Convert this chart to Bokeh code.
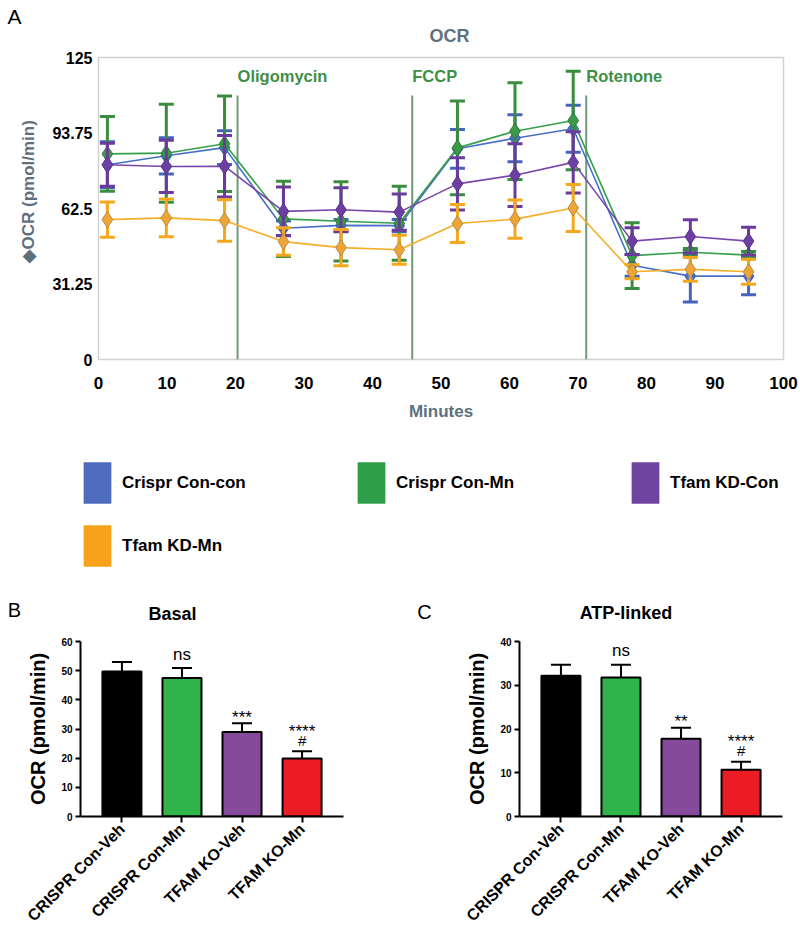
from math import pi
from bokeh.plotting import figure
from bokeh.models import (ColumnDataSource, Label, Legend, LegendItem, FixedTicker,
                          FactorRange, Title, Range1d)
from bokeh.layouts import column, row
from bokeh.core.properties import value
from bokeh.embed import file_html
from bokeh.resources import INLINE

# ---------------- data: panel A (OCR time course) ----------------
minutes = [1.3, 9.9, 18.4, 27.0, 35.4, 43.9, 52.4, 60.8, 69.3, 77.9, 86.4, 94.9]
series_names = ["Crispr Con-con", "Crispr Con-Mn", "Tfam KD-Con", "Tfam KD-Mn"]
con_con = [80.6, 84.3, 87.7, 54.3, 55.5, 55.4, 87.2, 91.6, 95.5, 39.0, 34.5, 34.5]
con_con_err = [9.5, 7.5, 7.0, 3.0, 2.4, 2.5, 8.0, 9.7, 9.7, 4.5, 10.7, 7.7]
con_mn = [85.1, 85.4, 89.3, 58.2, 57.2, 56.4, 87.6, 94.5, 98.9, 43.0, 44.4, 43.2]
con_mn_err = [15.5, 20.3, 19.8, 15.6, 16.4, 15.3, 19.4, 20.0, 20.4, 13.6, 1.5, 1.5]
kd_con = [80.6, 79.9, 80.0, 61.3, 62.0, 61.0, 72.7, 76.3, 81.6, 49.0, 50.9, 49.0]
kd_con_err = [8.9, 10.8, 12.7, 10.1, 9.1, 7.5, 10.8, 13.0, 12.7, 5.5, 6.9, 5.7]
kd_mn = [57.9, 58.6, 57.5, 48.8, 46.3, 45.4, 56.3, 58.1, 62.7, 36.3, 37.3, 36.3]
kd_mn_err = [7.3, 7.8, 8.6, 5.7, 7.5, 6.0, 7.9, 7.9, 9.7, 2.9, 4.9, 5.2]

drug_names = ["Oligomycin", "FCCP", "Rotenone"]
drug_times = [20.3, 45.8, 71.2]
drug_line_top = 109.3
y_ticks_A = [0, 31.25, 62.5, 93.75, 125]
x_ticks_A = [0, 10, 20, 30, 40, 50, 60, 70, 80, 90, 100]

# ---------------- data: panels B and C ----------------
groups = ["CRISPR Con-Veh", "CRISPR Con-Mn", "TFAM KO-Veh", "TFAM KO-Mn"]
basal = [49.7, 47.5, 29.0, 19.9]
basal_sem = [3.3, 3.4, 3.0, 2.5]
basal_sig = ["", "ns", "***", "****"]
basal_hash = ["", "", "", "#"]
atp = [32.2, 31.8, 17.8, 10.7]
atp_sem = [2.5, 2.9, 2.5, 1.8]
atp_sig = ["", "ns", "**", "****"]
atp_hash = ["", "", "", "#"]
bar_colors = ["#000000", "#2fb34a", "#864a9b", "#ec1c24"]

# ---------------- styles ----------------
SANS = "Liberation Sans, Arial, sans-serif"
line_cols = ["#4a6fc7", "#35a04a", "#7a46aa", "#f6ae27"]
err_cols = ["#4663bf", "#3a8c3e", "#6a3a9c", "#f5a81c"]
mk_fill = ["#4a6fc7", "#3a9a48", "#6e3fa2", "#eda634"]
mk_line = ["#3d5aa8", "#2f7a37", "#5a3488", "#b88a4a"]
leg_cols = ["#4f6bbd", "#2e9e48", "#6f43a0", "#f8a21c"]
GRAY = "#5e707d"
W = 800


def strip(height, border_left=0):
    """A blank canvas strip (no axes) used for panel letters, headings and legend."""
    s = figure(frame_width=W - border_left, frame_height=height, min_border=0,
               min_border_left=border_left, x_range=Range1d(border_left, W),
               y_range=Range1d(height, 0), x_axis_location=None, y_axis_location=None,
               output_backend="svg", toolbar_location=None)
    s.grid.visible = False
    s.outline_line_color = None
    return s


def text_label(fig, x, y, txt, size, bold=False, color="black"):
    fig.add_layout(Label(x=x, y=y, text=txt, text_font=SANS, text_font_size=size,
                         text_font_style="bold" if bold else "normal", text_color=color,
                         text_align="center", text_baseline="middle"))


# ---------------- header strip for A ----------------
hA = strip(45)
text_label(hA, 14, 16, "A", "21px")
text_label(hA, 449, 35, "OCR", "18px", bold=True, color=GRAY)

# ---------------- panel A ----------------
pA = figure(frame_width=685, frame_height=302, min_border_left=98, min_border_right=17,
            min_border_top=12, min_border_bottom=81, x_range=(0, 100), y_range=(0, 125),
            output_backend="svg", toolbar_location=None)
pA.grid.visible = False
pA.outline_line_color = "#d2d2d2"
pA.outline_line_width = 1.5

for ax in (pA.xaxis, pA.yaxis):
    ax.axis_line_color = None
    ax.major_tick_line_color = None
    ax.minor_tick_line_color = None
    ax.major_tick_out = 0
    ax.major_tick_in = 0
    ax.minor_tick_out = 0
    ax.minor_tick_in = 0
pA.yaxis.ticker = FixedTicker(ticks=y_ticks_A)
pA.yaxis.major_label_overrides = {t: ("%g" % t) for t in y_ticks_A}
pA.yaxis.major_label_text_font = SANS
pA.yaxis.major_label_text_font_style = "bold"
pA.yaxis.major_label_text_font_size = "16px"
pA.yaxis.major_label_text_color = "black"
pA.yaxis.major_label_standoff = 6
pA.xaxis.ticker = FixedTicker(ticks=x_ticks_A)
pA.xaxis.major_label_text_font = SANS
pA.xaxis.major_label_text_font_style = "bold"
pA.xaxis.major_label_text_font_size = "17px"
pA.xaxis.major_label_text_color = "black"
pA.xaxis.major_label_standoff = 17
pA.xaxis.axis_label = "Minutes"
pA.xaxis.axis_label_text_font = SANS
pA.xaxis.axis_label_text_font_style = "bold"
pA.xaxis.axis_label_text_font_size = "17px"
pA.xaxis.axis_label_text_color = GRAY
pA.xaxis.axis_label_standoff = 10

ylab = Title(text="\u25c6OCR (pmol/min)", align="left", offset=97, standoff=24,
             text_font=SANS, text_font_size="17px", text_font_style="bold", text_color=GRAY)
pA.add_layout(ylab, "left")

# drug injection lines
drug_src = ColumnDataSource(dict(x=drug_times, y0=[0] * len(drug_times),
                                 y1=[drug_line_top] * len(drug_times)))
pA.segment(x0="x", y0="y0", x1="x", y1="y1", source=drug_src,
           line_color="#6f9a78", line_width=2)
for name, t in zip(drug_names, drug_times):
    pA.add_layout(Label(x=t, y=117.5, text=name, text_font=SANS, text_font_size="16.5px",
                        text_font_style="bold", text_color="#3f8f45",
                        text_baseline="middle", text_align="left"))

series = [(con_con, con_con_err), (con_mn, con_mn_err), (kd_con, kd_con_err), (kd_mn, kd_mn_err)]
for i, (vals, errs) in enumerate(series):
    src = ColumnDataSource(dict(x=minutes, y=vals,
                                lo=[v - e for v, e in zip(vals, errs)],
                                hi=[v + e for v, e in zip(vals, errs)]))
    pA.line("x", "y", source=src, line_color=line_cols[i], line_width=1.6)
    pA.segment(x0="x", y0="lo", x1="x", y1="hi", source=src, line_color=err_cols[i], line_width=3)
    pA.scatter("x", "hi", source=src, marker="dash", size=15, line_color=err_cols[i], line_width=3)
    pA.scatter("x", "lo", source=src, marker="dash", size=15, line_color=err_cols[i], line_width=3)
    pA.scatter("x", "y", source=src, marker="diamond", size=16, fill_color=mk_fill[i],
               line_color=mk_line[i], line_width=1)

# ---------------- legend strip ----------------
lg = strip(135, border_left=63)
items = []
for i, name in enumerate(series_names):
    # proxy renderer, lying outside the visible strip; only its style feeds the legend
    r = lg.quad(left=[0], right=[1], top=[-10], bottom=[-11], fill_color=leg_cols[i],
                line_color=leg_cols[i], line_alpha=0.5)
    items.append(LegendItem(label=name, renderers=[r]))
leg = Legend(items=items, location="top_left", ncols=3, orientation="horizontal",
             glyph_width=34, glyph_height=51, label_standoff=8, label_width=220, spacing=12,
             padding=0, margin=17, border_line_color=None, background_fill_alpha=0,
             label_text_font=SANS, label_text_font_style="bold", label_text_font_size="17px",
             label_text_color="black", label_text_baseline="middle")
lg.add_layout(leg, "center")

# ---------------- header strip for B and C ----------------
hBC = strip(55)
text_label(hBC, 14, 609 - 575, "B", "20px")
text_label(hBC, 172, 613 - 575, "Basal", "18px", bold=True)
text_label(hBC, 424, 611.5 - 575, "C", "20px")
text_label(hBC, 625.5, 612.5 - 575, "ATP-linked", "18px", bold=True)


# ---------------- panels B, C ----------------
def bar_panel(vals, sems, sig, hsh, ymax, left_border, right_border):
    p = figure(frame_width=263, frame_height=175, min_border_left=left_border,
               min_border_right=right_border, min_border_top=11, min_border_bottom=115,
               x_range=FactorRange(*groups, range_padding=0.19, range_padding_units="absolute"),
               y_range=(0, ymax), output_backend="svg", toolbar_location=None)
    p.grid.visible = False
    p.outline_line_color = None
    for ax in (p.xaxis, p.yaxis):
        ax.axis_line_color = "black"
        ax.axis_line_width = 2
        ax.major_tick_line_color = "black"
        ax.major_tick_line_width = 2
        ax.major_tick_in = 0
        ax.minor_tick_line_color = None
        ax.major_label_text_color = "black"
        ax.major_label_text_font = SANS
        ax.major_label_text_font_style = "bold"
    p.yaxis.ticker = FixedTicker(ticks=list(range(0, ymax + 1, 10)))
    p.yaxis.major_tick_out = 5
    p.yaxis.major_label_text_font_size = "10px"
    p.yaxis.major_label_standoff = 3
    p.yaxis.axis_label = "OCR (pmol/min)"
    p.yaxis.axis_label_text_font = SANS
    p.yaxis.axis_label_text_font_size = "20px"
    p.yaxis.axis_label_text_font_style = "bold"
    p.yaxis.axis_label_text_color = "black"
    p.yaxis.axis_label_standoff = 9
    p.xaxis.major_tick_out = 6
    p.xaxis.major_label_text_font_size = "16px"
    p.xaxis.major_label_orientation = pi / 4
    p.xaxis.major_label_standoff = 4

    sig_off = [(-20 if h else (-14 if s == "ns" else -6)) for s, h in zip(sig, hsh)]
    src = ColumnDataSource(dict(x=groups, top=vals, hi=[v + s for v, s in zip(vals, sems)],
                                color=bar_colors, sig=sig, hsh=hsh, sig_off=sig_off))
    p.segment(x0="x", y0="top", x1="x", y1="hi", source=src, line_color="black", line_width=2)
    p.scatter("x", "hi", source=src, marker="dash", size=20, line_color="black", line_width=2)
    p.vbar(x="x", top="top", width=0.65, source=src, fill_color="color",
           line_color="black", line_width=2)
    p.text(x="x", y="hi", text="sig", source=src, text_align="center",
           text_baseline="middle", y_offset="sig_off", text_font=value(SANS),
           text_font_size="17px", text_color="black")
    p.text(x="x", y="hi", text="hsh", source=src, text_align="center",
           text_baseline="middle", y_offset=-11, text_font=value(SANS),
           text_font_size="15px", text_color="black")
    return p


pB = bar_panel(basal, basal_sem, basal_sig, basal_hash, 60, 80, 57)
pC = bar_panel(atp, atp_sem, atp_sig, atp_hash, 40, 119, 18)

layout = column(row(hA), pA, row(lg), row(hBC), row(pB, pC))
open("out.html", "w").write(file_html(layout, INLINE))
